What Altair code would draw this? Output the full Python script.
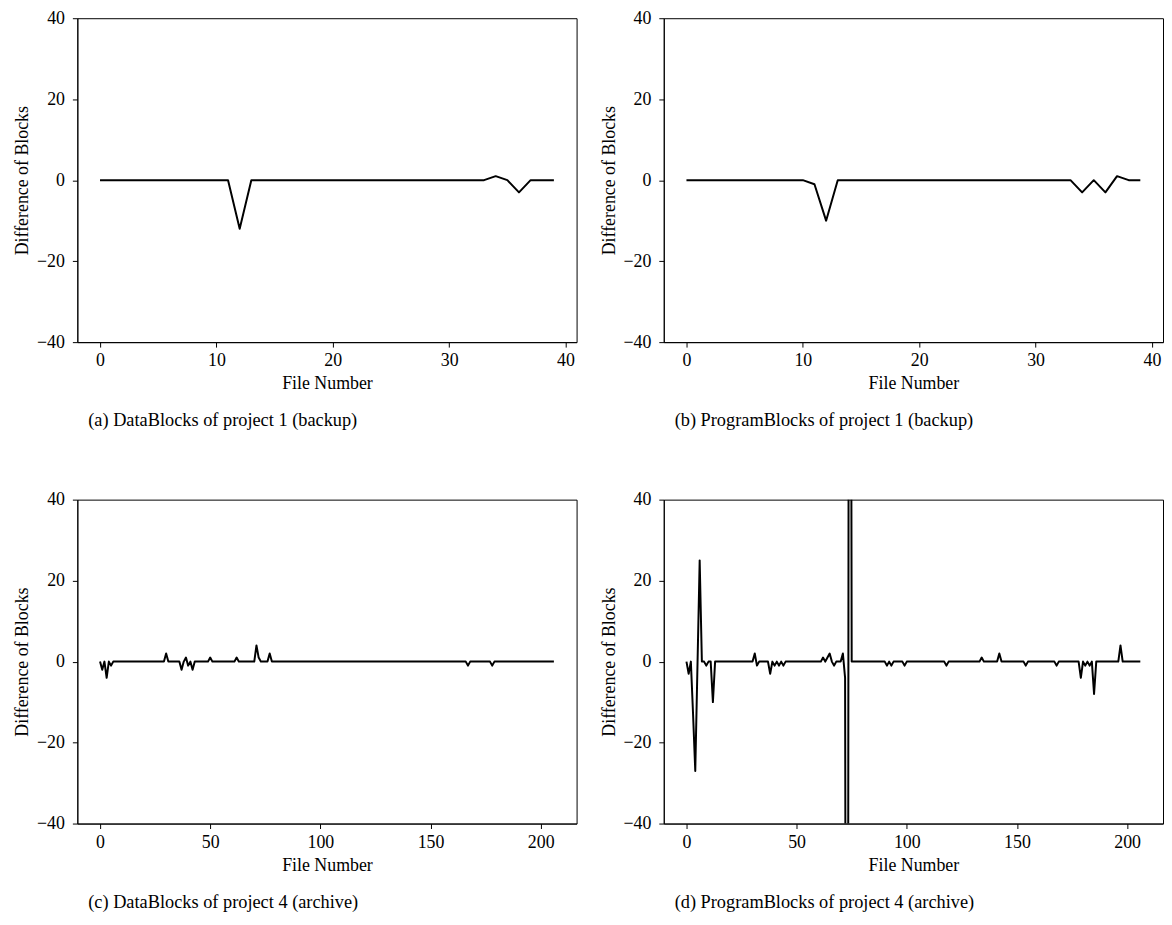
import altair as alt
import pandas as pd

# ---- data ----
files_a = list(range(40))
diff_a = [0, 0, 0, 0, 0, 0, 0, 0, 0, 0,
          0, 0, -12, 0, 0, 0, 0, 0, 0, 0,
          0, 0, 0, 0, 0, 0, 0, 0, 0, 0,
          0, 0, 0, 0, 1, 0, -3, 0, 0, 0]

files_b = list(range(40))
diff_b = [0, 0, 0, 0, 0, 0, 0, 0, 0, 0,
          0, -1, -10, 0, 0, 0, 0, 0, 0, 0,
          0, 0, 0, 0, 0, 0, 0, 0, 0, 0,
          0, 0, 0, 0, -3, 0, -3, 1, 0, 0]

files_c = list(range(207))
diff_c = [0, -2, 0, -4, 0, -1, 0, 0, 0, 0, 0, 0, 0, 0, 0, 0, 0, 0, 0, 0,
          0, 0, 0, 0, 0, 0, 0, 0, 0, 0, 2, 0, 0, 0, 0, 0, 0, -2, 0, 1,
          -1, 0, -2, 0, 0, 0, 0, 0, 0, 0, 1, 0, 0, 0, 0, 0, 0, 0, 0, 0,
          0, 0, 1, 0, 0, 0, 0, 0, 0, 0, 0, 4, 1, 0, 0, 0, 0, 2, 0, 0,
          0, 0, 0, 0, 0, 0, 0, 0, 0, 0, 0, 0, 0, 0, 0, 0, 0, 0, 0, 0,
          0, 0, 0, 0, 0, 0, 0, 0, 0, 0, 0, 0, 0, 0, 0, 0, 0, 0, 0, 0,
          0, 0, 0, 0, 0, 0, 0, 0, 0, 0, 0, 0, 0, 0, 0, 0, 0, 0, 0, 0,
          0, 0, 0, 0, 0, 0, 0, 0, 0, 0, 0, 0, 0, 0, 0, 0, 0, 0, 0, 0,
          0, 0, 0, 0, 0, 0, 0, -1, 0, 0, 0, 0, 0, 0, 0, 0, 0, 0, -1, 0,
          0, 0, 0, 0, 0, 0, 0, 0, 0, 0, 0, 0, 0, 0, 0, 0, 0, 0, 0, 0,
          0, 0, 0, 0, 0, 0, 0]

files_d = list(range(207))
diff_d = [0, -3, 0, -13, -27, -1, 25, 0, 0, -1, 0, 0, -10, 0, 0, 0, 0, 0, 0, 0,
          0, 0, 0, 0, 0, 0, 0, 0, 0, 0, 0, 2, -1, 0, 0, 0, 0, 0, -3, 0,
          -1, 0, -1, 0, -1, 0, 0, 0, 0, 0, 0, 0, 0, 0, 0, 0, 0, 0, 0, 0,
          0, 0, 1, 0, 1, 2, 0, -1, 0, 0, 0, 2, -4, -300, 300, 0, 0, 0, 0, 0,
          0, 0, 0, 0, 0, 0, 0, 0, 0, 0, 0, -1, 0, -1, 0, 0, 0, 0, 0, -1,
          0, 0, 0, 0, 0, 0, 0, 0, 0, 0, 0, 0, 0, 0, 0, 0, 0, 0, -1, 0,
          0, 0, 0, 0, 0, 0, 0, 0, 0, 0, 0, 0, 0, 0, 1, 0, 0, 0, 0, 0,
          0, 0, 2, 0, 0, 0, 0, 0, 0, 0, 0, 0, 0, 0, -1, 0, 0, 0, 0, 0,
          0, 0, 0, 0, 0, 0, 0, 0, -1, 0, 0, 0, 0, 0, 0, 0, 0, 0, 0, -4,
          0, -1, 0, -1, 0, -8, 0, 0, 0, 0, 0, 0, 0, 0, 0, 0, 0, 4, 0, 0,
          0, 0, 0, 0, 0, 0, 0]

ticks_small = [0, 10, 20, 30, 40]
ticks_large = [0, 50, 100, 150, 200]
y_ticks = [-40, -20, 0, 20, 40]

captions = ["(a) DataBlocks of project 1 (backup)",
            "(b) ProgramBlocks of project 1 (backup)",
            "(c) DataBlocks of project 4 (archive)",
            "(d) ProgramBlocks of project 4 (archive)"]

FONT = "Liberation Serif"


def panel(xs, ys, xticks, caption):
    df = pd.DataFrame({"file": xs, "diff": ys})
    span = max(xs) - min(xs)
    dom = [min(xs) - 0.05 * span, max(xs) + 0.05 * span]
    return alt.Chart(df).mark_line(
        color="black", strokeWidth=2, clip=True, strokeJoin="round"
    ).encode(
        x=alt.X("file:Q",
                scale=alt.Scale(domain=dom, nice=False, zero=False),
                axis=alt.Axis(values=xticks, title="File Number", format="d")),
        y=alt.Y("diff:Q",
                scale=alt.Scale(domain=[-40, 40], nice=False),
                axis=alt.Axis(values=y_ticks, title="Difference of Blocks", format="d")),
    ).properties(
        width=504, height=327,
        title=alt.TitleParams(caption, orient="bottom", anchor="start", frame="group",
                              dx=11, offset=19, fontSize=18.5, font=FONT,
                              fontWeight="normal", color="black"),
    )


pa = panel(files_a, diff_a, ticks_small, captions[0])
pb = panel(files_b, diff_b, ticks_small, captions[1])
pc = panel(files_c, diff_c, ticks_large, captions[2])
pd_ = panel(files_d, diff_d, ticks_large, captions[3])

chart = alt.vconcat(
    alt.hconcat(pa, pb, spacing=22),
    alt.hconcat(pc, pd_, spacing=22),
    spacing=60,
).properties(
    padding={"left": 5, "top": -4, "right": 0, "bottom": 0}
).configure_view(
    stroke="black", strokeWidth=1
).configure_axis(
    labelFont=FONT, titleFont=FONT, labelFontSize=18, titleFontSize=18,
    labelColor="black", titleColor="black", domainColor="black",
    tickColor="black", tickSize=5, grid=False, titleFontWeight="normal",
    domainWidth=1, tickWidth=1,
).configure_axisX(
    labelPadding=5, titlePadding=5,
).configure_axisY(
    labelPadding=8, titlePadding=5,
)

chart.save("out.html", embed_options={"renderer": "svg", "actions": False})
